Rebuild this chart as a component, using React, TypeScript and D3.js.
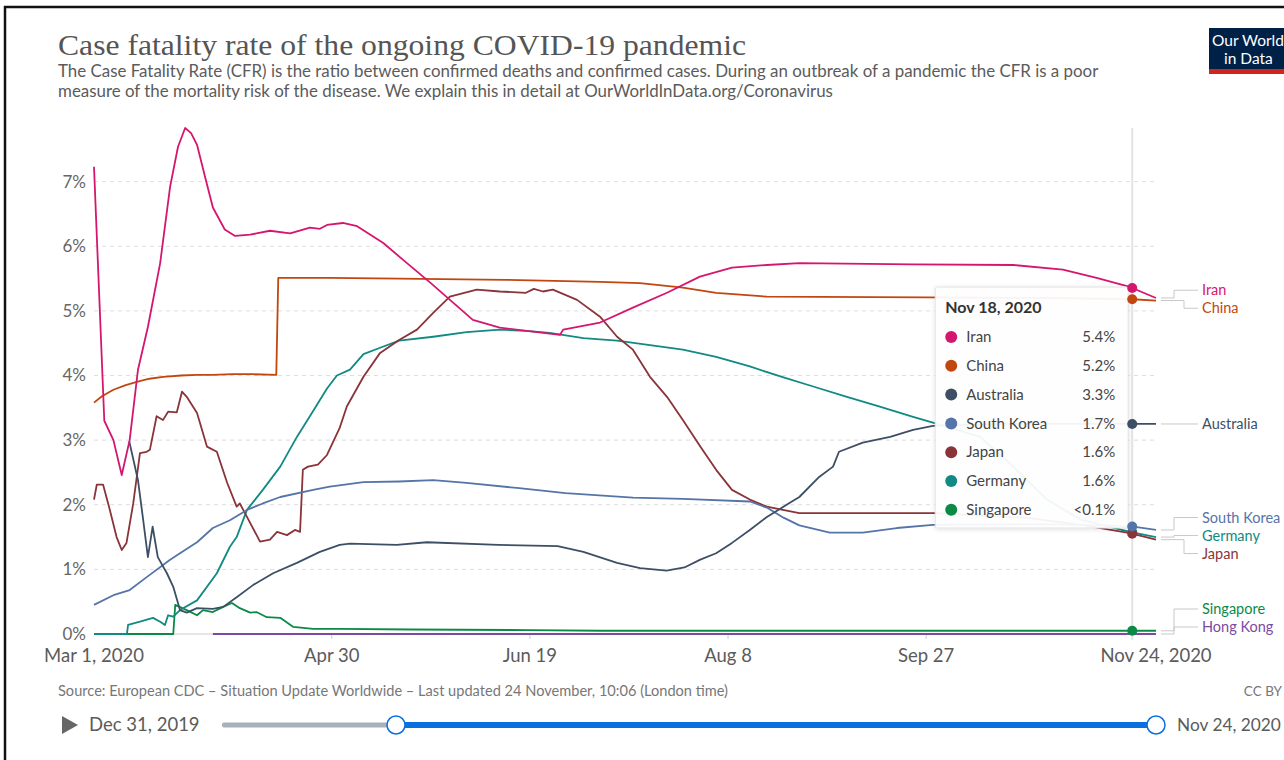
import React from "react";
import * as d3 from "d3";

type Pt = [number, number]; // [days since Mar 1 2020, CFR %]

const startDate = "2020-03-01";
const endDate = "2020-11-24";
const hoverDate = "2020-11-18";

const xTickDates = ["2020-03-01", "2020-04-30", "2020-06-19", "2020-08-08", "2020-09-27", "2020-11-24"];
const xTickLabels = ["Mar 1, 2020", "Apr 30", "Jun 19", "Aug 8", "Sep 27", "Nov 24, 2020"];
const yTickValues = [0, 1, 2, 3, 4, 5, 6, 7];

const seriesNames = ["Iran", "China", "Australia", "South Korea", "Japan", "Germany", "Singapore", "Hong Kong"];
const seriesColors = ["#d5166f", "#c2470f", "#3d4f66", "#5574a8", "#8a3439", "#108a83", "#0b8a45", "#7b4aa3"];

const iranCFR: Pt[] = [
  [0, 7.23], [2.6, 3.3], [4.9, 3.0], [7, 2.46], [9, 3.0], [11.1, 4.09], [13.6, 4.75], [16.7, 5.74],
  [19.2, 6.92], [21.2, 7.54], [23, 7.83], [24.5, 7.75], [26, 7.57], [28, 7.08], [30, 6.6], [33, 6.26],
  [35.6, 6.16], [39.4, 6.18], [44.4, 6.24], [49.5, 6.2], [54.5, 6.29], [57, 6.27], [58.8, 6.33],
  [62.8, 6.36], [66.4, 6.31], [73, 6.05], [78, 5.79], [85, 5.43], [95.6, 4.86], [102.4, 4.74],
  [110.8, 4.68], [117.6, 4.63], [118.4, 4.71], [127.7, 4.82], [136, 5.05], [144.6, 5.28],
  [152.9, 5.53], [161, 5.67], [169.8, 5.71], [178, 5.74], [206.7, 5.72], [232, 5.71], [244.5, 5.64],
  [253, 5.51], [261.4, 5.37], [268, 5.2],
];
const chinaCFR: Pt[] = [
  [0, 3.58], [2, 3.68], [4.9, 3.78], [8, 3.85], [10.8, 3.9], [14, 3.95], [17.4, 3.98], [22, 4.0],
  [26, 4.01], [30, 4.01], [35, 4.02], [40, 4.02], [46, 4.01], [46.5, 5.51], [59.5, 5.51], [77, 5.5],
  [104, 5.48], [127.7, 5.45], [137.8, 5.43], [148.6, 5.36], [157, 5.28], [169.8, 5.22], [210, 5.21],
  [240, 5.2], [262, 5.18], [268, 5.16],
];
const australiaCFR: Pt[] = [
  [8.9, 2.98], [11.1, 2.38], [12.4, 1.77], [13.6, 1.19], [14.8, 1.66], [16.1, 1.19], [18.4, 0.94],
  [20, 0.73], [21.7, 0.37], [23.4, 0.33], [26, 0.4], [30, 0.39], [32.6, 0.42], [36, 0.57], [40.2, 0.76],
  [45.2, 0.94], [51.2, 1.1], [57, 1.27], [62, 1.38], [64.6, 1.4], [76.4, 1.38], [84, 1.42], [102, 1.38],
  [117, 1.36], [123.5, 1.27], [132, 1.1], [137.8, 1.02], [144.5, 0.98], [149, 1.03], [153, 1.15],
  [157, 1.25], [161, 1.41], [165.5, 1.61], [169.8, 1.81], [175.6, 2.03], [178, 2.12], [183, 2.43],
  [186.5, 2.59], [188, 2.82], [194, 2.96], [200.9, 3.05], [206.7, 3.16], [211.7, 3.22], [230, 3.25],
  [262, 3.25], [268, 3.25],
];
const southKoreaCFR: Pt[] = [
  [0, 0.45], [4.9, 0.6], [9, 0.68], [13.3, 0.88], [19.2, 1.15], [21.7, 1.25], [26, 1.42], [30, 1.64],
  [34.3, 1.76], [38.6, 1.92], [42.6, 2.02], [47, 2.12], [55.3, 2.23], [59.5, 2.28], [68, 2.35],
  [77, 2.36], [85.6, 2.38], [94, 2.34], [106.7, 2.26], [119, 2.18], [136, 2.11], [148.6, 2.09],
  [165.5, 2.05], [170, 1.95], [174, 1.8], [178, 1.68], [185.7, 1.57], [194, 1.57], [202.6, 1.64],
  [211.7, 1.69], [240, 1.7], [261.4, 1.67], [268, 1.61],
];
const japanCFR: Pt[] = [
  [0, 2.08], [0.7, 2.31], [2.3, 2.31], [4, 1.92], [5.7, 1.5], [7, 1.3], [8.2, 1.41], [9.9, 2.02],
  [11.6, 2.8], [13.3, 2.82], [14.1, 2.85], [15.8, 3.37], [17.4, 3.31], [18.7, 3.44], [20.9, 3.43],
  [22.2, 3.75], [23.4, 3.67], [26, 3.42], [28.5, 2.9], [31, 2.82], [33.6, 2.34], [36, 1.97],
  [36.8, 2.02], [39.4, 1.72], [41.9, 1.43], [44.4, 1.46], [46.2, 1.58], [48.7, 1.53], [50.7, 1.61],
  [52, 1.58], [52.7, 2.54], [54, 2.59], [56.5, 2.62], [58.8, 2.77], [62, 3.19], [63.8, 3.52],
  [68, 3.98], [72.2, 4.35], [77, 4.55], [81.5, 4.71], [85.6, 4.97], [89.8, 5.22], [96.6, 5.33],
  [102.4, 5.3], [109, 5.28], [111, 5.34], [113.3, 5.3], [115.8, 5.33], [121.9, 5.17], [127.7, 4.91],
  [132, 4.6], [136, 4.4], [140.3, 3.98], [144.6, 3.67], [148.6, 3.31], [153, 2.9], [157, 2.54],
  [161, 2.23], [165.5, 2.08], [169.8, 1.97], [178, 1.87], [212, 1.87], [235, 1.8], [250, 1.68],
  [261.4, 1.56], [268, 1.46],
];
const germanyCFR: Pt[] = [
  [0, 0], [8.3, 0], [8.6, 0.14], [11.6, 0.19], [14.9, 0.25], [16.7, 0.19], [17.9, 0.14], [18.7, 0.29],
  [20, 0.27], [21.7, 0.37], [26, 0.52], [31, 0.94], [34.3, 1.35], [36, 1.5], [38.6, 1.92], [42.6, 2.23],
  [47, 2.59], [51.2, 3.05], [55.3, 3.45], [58.8, 3.8], [61.3, 4.0], [64.6, 4.09], [68, 4.33],
  [72.2, 4.43], [77, 4.54], [85.6, 4.6], [94, 4.67], [102.4, 4.71], [109, 4.69], [115, 4.66],
  [123.5, 4.58], [132, 4.54], [140.3, 4.47], [148.6, 4.4], [157, 4.29], [165.5, 4.14], [174, 3.97],
  [181.5, 3.83], [190, 3.67], [198.3, 3.52], [206.7, 3.36], [211.7, 3.27], [223.6, 3.05], [232, 2.59],
  [240.5, 2.08], [249, 1.77], [261.4, 1.58], [268, 1.5],
];
const singaporeCFR: Pt[] = [
  [0, 0], [20, 0], [20.5, 0.45], [23.4, 0.37], [26, 0.29], [27.5, 0.37], [30, 0.34], [32.6, 0.42],
  [34.8, 0.48], [36.8, 0.4], [39.4, 0.33], [41, 0.34], [43.6, 0.26], [47, 0.25], [50.3, 0.11],
  [55.3, 0.08], [62, 0.08], [80, 0.07], [110, 0.06], [128, 0.05], [268, 0.05],
];
const hongKongCFR: Pt[] = [[30, 0], [268, 0]];

const tooltipNames = ["Iran", "China", "Australia", "South Korea", "Japan", "Germany", "Singapore"];
const tooltipValues = ["5.4%", "5.2%", "3.3%", "1.7%", "1.6%", "1.6%", "<0.1%"];

const titleText = "Case fatality rate of the ongoing COVID-19 pandemic";
const subtitleLines = [
  "The Case Fatality Rate (CFR) is the ratio between confirmed deaths and confirmed cases. During an outbreak of a pandemic the CFR is a poor",
  "measure of the mortality risk of the disease. We explain this in detail at OurWorldInData.org/Coronavirus",
];
const sourceText = "Source: European CDC – Situation Update Worldwide – Last updated 24 November, 10:06 (London time)";
const timelineStart = "Dec 31, 2019";
const timelineEnd = "Nov 24, 2020";

const FONT = "Lato, 'Noto Sans', sans-serif";

function valueAt(s: Pt[], day: number): number {
  for (let i = 1; i < s.length; i++) {
    if (s[i][0] >= day) {
      const [d0, v0] = s[i - 1];
      const [d1, v1] = s[i];
      const t = d1 === d0 ? 1 : (day - d0) / (d1 - d0);
      return v0 + (v1 - v0) * t;
    }
  }
  return s[s.length - 1][1];
}

function placeLabels(targets: number[], gap: number, minY: number, maxY: number): number[] {
  const order = targets.map((_, i) => i).sort((a, b) => targets[a] - targets[b]);
  type C = { items: number[]; top: number };
  const layout = (c: C) => {
    const n = c.items.length;
    const mean = d3.mean(c.items, (i) => targets[i])!;
    c.top = mean - ((n - 1) * gap) / 2;
    if (c.top < minY) c.top = minY;
    if (c.top + (n - 1) * gap > maxY) c.top = maxY - (n - 1) * gap;
  };
  const clusters: C[] = order.map((i) => ({ items: [i], top: targets[i] }));
  clusters.forEach(layout);
  let changed = true;
  while (changed) {
    changed = false;
    for (let k = 1; k < clusters.length; k++) {
      const a = clusters[k - 1];
      const b = clusters[k];
      if (a.top + a.items.length * gap > b.top + 0.01) {
        a.items = a.items.concat(b.items);
        layout(a);
        clusters.splice(k, 1);
        changed = true;
        break;
      }
    }
  }
  const out = new Array(targets.length).fill(0);
  clusters.forEach((c) => c.items.forEach((i, j) => (out[i] = c.top + j * gap)));
  return out;
}

export default function App() {
  const W = 1284;
  const H = 760;
  const parse = d3.timeParse("%Y-%m-%d");
  const t0 = parse(startDate)!;
  const t1 = parse(endDate)!;
  const th = parse(hoverDate)!;
  const DAY = 864e5;
  const dayToDate = (d: number) => new Date(t0.getTime() + d * DAY);

  const allSeries = [iranCFR, chinaCFR, australiaCFR, southKoreaCFR, japanCFR, germanyCFR, singaporeCFR, hongKongCFR];
  const yMax = d3.max(allSeries.flat(), (d) => d[1])!;

  const x = d3.scaleTime().domain([t0, t1]).range([94, 1156]);
  const y = d3.scaleLinear().domain([0, yMax]).range([634, 128]);

  const line = d3
    .line<Pt>()
    .x((d) => x(dayToDate(d[0])))
    .y((d) => y(d[1]));

  const hoverDay = Math.round((th.getTime() - t0.getTime()) / DAY);
  const hx = x(th);

  const endYs = allSeries.map((s) => y(s[s.length - 1][1]));
  const labelYs = placeLabels(endYs, 18, 128, 627);
  const lineEndX = x(t1);
  const connStart = lineEndX + 5;
  const labelX = 1202;

  // tooltip geometry
  const tipW = 193;
  const tipH = 241;
  const tipX = hx - 4 - tipW;
  const tipY = 287;
  const rowH = 28.8;

  return (
    <svg
      width={W}
      height={H}
      viewBox={`0 0 ${W} ${H}`}
      style={{ position: "absolute", left: 0, top: 0, background: "#fff" }}
      fontFamily={FONT}
    >
      <defs>
        <filter id="tipShadow" x="-10%" y="-10%" width="120%" height="120%">
          <feDropShadow dx="0" dy="1" stdDeviation="2" floodColor="#000" floodOpacity="0.12" />
        </filter>
      </defs>
      <rect x={0} y={0} width={W} height={H} fill="#fff" />
      {/* screenshot frame */}
      <line x1={4} y1={7} x2={W} y2={7} stroke="#111" strokeWidth={2.5} />
      <line x1={5} y1={6} x2={5} y2={H} stroke="#111" strokeWidth={2.5} />

      {/* Title */}
      <text x={58} y={55} fontFamily="'Liberation Serif', 'DejaVu Serif', serif" fontSize={29} fill="#555"
        textLength={688} lengthAdjust="spacingAndGlyphs">
        {titleText}
      </text>
      {subtitleLines.map((s, i) => (
        <text key={i} x={58} y={77 + i * 20} fontSize={16.9} fill="#5b5b5b">
          {s}
        </text>
      ))}

      {/* Logo */}
      <g>
        <rect x={1209} y={28} width={80} height={46} fill="#002147" />
        <rect x={1209} y={69} width={80} height={5} fill="#ce261e" />
        <text x={1212} y={46} fontSize={15.5} fill="#fff">Our World</text>
        <text x={1224} y={64} fontSize={15.5} fill="#fff">in Data</text>
      </g>

      {/* grid */}
      {yTickValues.map((v) => (
        <g key={v}>
          {v > 0 && (
            <line x1={x(t0)} x2={lineEndX} y1={y(v)} y2={y(v)} stroke="#ddd" strokeDasharray="4,4" strokeWidth={1} />
          )}
          <text x={86} y={y(v)} dy="0.35em" textAnchor="end" fontSize={17} fill="#666">
            {`${v}%`}
          </text>
        </g>
      ))}
      <line x1={x(t0)} x2={lineEndX} y1={y(0)} y2={y(0)} stroke="#ccc" strokeWidth={1} />

      {/* x ticks */}
      {xTickDates.map((d, i) => {
        const xx = x(parse(d)!);
        return (
          <g key={d}>
            {i > 0 && i < xTickDates.length - 1 && (
              <line x1={xx} x2={xx} y1={y(0)} y2={y(0) + 5} stroke="#ccc" />
            )}
            <text x={xx} y={662} textAnchor="middle" fontSize={18.5} fill="#5b5b5b">
              {xTickLabels[i]}
            </text>
          </g>
        );
      })}

      {/* hover line */}
      <line x1={hx} x2={hx} y1={128} y2={y(0) + 6} stroke="#e4e4e4" strokeWidth={2} />

      {/* series */}
      {allSeries.map((s, i) => (
        <path key={seriesNames[i]} d={line(s)!} fill="none" stroke={seriesColors[i]} strokeWidth={1.8}
          strokeLinejoin="round" />
      )).reverse()}

      {/* end labels */}
      {allSeries.map((s, i) => {
        const ey = endYs[i];
        const ly = labelYs[i];
        const moved = Math.abs(ly - ey) > 0.5;
        const elbow = ly < ey ? 1174 : 1184;
        const d = moved
          ? `M${connStart},${ey}H${elbow}V${ly}H${labelX - 4}`
          : `M${connStart},${ey}H${labelX - 4}`;
        return (
          <g key={seriesNames[i]}>
            <path d={d} fill="none" stroke="#c8c8c8" strokeWidth={1} />
            <text x={labelX} y={ly} dy="0.35em" fontSize={14.5} fill={seriesColors[i]}>
              {seriesNames[i]}
            </text>
          </g>
        );
      })}

      {/* tooltip */}
      <rect x={tipX} y={tipY} width={tipW} height={tipH} fill="#fff" fillOpacity={0.93} stroke="#e2e2e2"
        rx={2} filter="url(#tipShadow)" />
      <text x={tipX + 10} y={tipY + 26} fontSize={16} fontWeight={700} fill="#333">
        {d3.timeFormat("%b %-d, %Y")(th)}
      </text>
      {tooltipNames.map((n, i) => {
        const idx = seriesNames.indexOf(n);
        const ry = tipY + 50 + i * rowH;
        return (
          <g key={n}>
            <circle cx={tipX + 16} cy={ry} r={6} fill={seriesColors[idx]} />
            <text x={tipX + 31} y={ry} dy="0.35em" fontSize={15} fill="#444">{n}</text>
            <text x={tipX + tipW - 13} y={ry} dy="0.35em" textAnchor="end" fontSize={15} fill="#444">
              {tooltipValues[i]}
            </text>
          </g>
        );
      })}

      {/* hover dots */}
      {tooltipNames.map((n) => {
        const idx = seriesNames.indexOf(n);
        return (
          <circle key={n} cx={hx} cy={y(valueAt(allSeries[idx], hoverDay))} r={5} fill={seriesColors[idx]} />
        );
      }).reverse()}

      {/* footer */}
      <text x={58} y={696} fontSize={14.6} fill="#777">{sourceText}</text>
      <text x={1282} y={696} textAnchor="end" fontSize={13.5} fill="#777">CC BY</text>

      {/* timeline */}
      <path d="M62,716L78,725L62,734Z" fill="#666" />
      <text x={89} y={725} dy="0.35em" fontSize={18.5} fill="#5b5b5b">{timelineStart}</text>
      <rect x={222} y={722.5} width={396 - 222} height={5} fill="#a9b0b9" rx={2} />
      <rect x={396} y={722} width={1156 - 396} height={6} fill="#0a70e0" />
      <circle cx={396} cy={725} r={9} fill="#fff" stroke="#0a70e0" strokeWidth={1.5} />
      <circle cx={1156} cy={725} r={9} fill="#fff" stroke="#0a70e0" strokeWidth={1.5} />
      <text x={1177} y={725} dy="0.35em" fontSize={17.3} fill="#5b5b5b">{timelineEnd}</text>
    </svg>
  );
}
